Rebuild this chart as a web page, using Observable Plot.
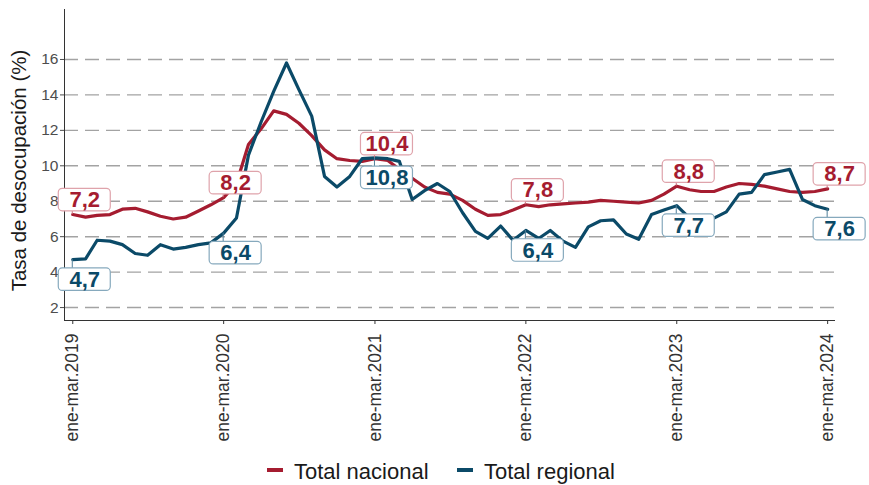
<!DOCTYPE html>
<html>
<head>
<meta charset="utf-8">
<script src="https://cdn.jsdelivr.net/npm/d3@7"></script>
<script src="https://cdn.jsdelivr.net/npm/@observablehq/plot@0.6"></script>
<style>
  html, body { margin: 0; padding: 0; background: #ffffff; }
  body { width: 869px; height: 485px; overflow: hidden; font-family: "Liberation Sans", Arial, sans-serif; }
  #legend { position: relative; height: 33px; font-size: 22px; color: #1a1a1a; }
  #legend .item { position: absolute; top: 0; height: 33px; line-height: 33px; white-space: nowrap; }
  #legend .sw { position: absolute; width: 16px; height: 4px; }
</style>
</head>
<body>
<div id="chart"></div>
<div id="legend"></div>
<script>
// ---- data ----
const startYear = 2019;
const nMonths = 61; // ene-mar 2019 ... ene-mar 2024 (rolling quarters)
const seriesNames = ["Total nacional", "Total regional"];
const nacional = [
  7.25, 7.1, 7.2, 7.25, 7.55, 7.6, 7.4, 7.15, 7.0, 7.1, 7.45, 7.8,
  8.2, 9.0, 11.2, 12.1, 13.1, 12.9, 12.4, 11.7, 10.9, 10.4, 10.3, 10.25,
  10.4, 10.3, 9.8, 9.3, 8.8, 8.5, 8.4, 8.05, 7.55, 7.2, 7.25, 7.5,
  7.8, 7.7, 7.8, 7.85, 7.9, 7.95, 8.05, 8.0, 7.95, 7.9, 8.05, 8.4,
  8.85, 8.65, 8.55, 8.55, 8.8, 9.0, 8.95, 8.85, 8.7, 8.55, 8.5, 8.55,
  8.7
];
const regional = [
  4.7, 4.75, 5.8, 5.75, 5.55, 5.05, 4.95, 5.55, 5.3, 5.4, 5.55, 5.65,
  6.2, 7.05, 10.6, 12.5, 14.2, 15.8, 14.3, 12.8, 9.4, 8.8, 9.4, 10.4,
  10.45, 10.4, 10.25, 8.1, 8.6, 9.0, 8.55, 7.35, 6.3, 5.9, 6.6, 5.8,
  6.35, 5.9, 6.35, 5.75, 5.4, 6.55, 6.9, 6.95, 6.15, 5.85, 7.25, 7.5,
  7.75, 7.05, 7.0, 7.05, 7.4, 8.4, 8.5, 9.5, 9.65, 9.8, 8.1, 7.75,
  7.55
];
const labelIndex = [0, 12, 24, 36, 48, 60];
const labelsNacional = ["7,2", "8,2", "10,4", "7,8", "8,8", "8,7"];
const labelsRegional = ["4,7", "6,4", "10,8", "6,4", "7,7", "7,6"];
const yTicks = [2, 4, 6, 8, 10, 12, 14, 16];
const xTickYears = [2019, 2020, 2021, 2022, 2023, 2024];
const xTickPrefix = "ene-mar.";
const yTitle = "Tasa de desocupación (%)";

// ---- styles ----
const RED = "#a51c30";
const BLUE = "#0b4a68";
const RED_BORDER = "#dfa3ab";
const BLUE_BORDER = "#86a9bd";
const FONT = "'Liberation Sans', Arial, sans-serif";

const months = d3.range(nMonths).map(i => new Date(Date.UTC(startYear, i, 1)));
const rows = months.map((d, i) => ({date: d, nac: nacional[i], reg: regional[i]}));
const xTicks = xTickYears.map(y => new Date(Date.UTC(y, 0, 1)));
const labNac = labelIndex.map((k, j) => ({date: months[k], v: nacional[k], t: labelsNacional[j]}));
const labReg = labelIndex.map((k, j) => ({date: months[k], v: regional[k], t: labelsRegional[j]}));

const xDomain = [new Date(Date.UTC(2018, 11, 12)), new Date(Date.UTC(2024, 0, 20))];
const yDomain = [1.27, 18.82];
const DX = 12, DY_NAC = -14.5, DY_REG = 20;

const chart = Plot.plot({
  width: 869,
  height: 452,
  marginLeft: 64,
  marginRight: 34,
  marginTop: 9,
  marginBottom: 132,
  style: {fontFamily: FONT, background: "#ffffff", overflow: "visible"},
  x: {type: "utc", domain: xDomain},
  y: {domain: yDomain},
  marks: [
    Plot.gridY(yTicks, {stroke: "#a3a3a3", strokeOpacity: 1, strokeWidth: 1.4, strokeDasharray: "14,7"}),
    Plot.axisY({ticks: yTicks, tickSize: 4, tickPadding: 2, fontSize: 15.5, color: "#4d4d4d", label: null}),
    Plot.axisX({ticks: xTicks, tickFormat: d => xTickPrefix + d.getUTCFullYear(), tickRotate: -90,
      tickSize: 4, tickPadding: 9, fontSize: 17.5, color: "#333333", label: null}),
    Plot.ruleX([xDomain[0]], {stroke: "#333333", strokeWidth: 1}),
    Plot.ruleY([yDomain[0]], {stroke: "#333333", strokeWidth: 1}),
    Plot.line(rows, {x: "date", y: "nac", stroke: RED, strokeWidth: 3.2, strokeLinejoin: "round"}),
    Plot.line(rows, {x: "date", y: "reg", stroke: BLUE, strokeWidth: 3.2, strokeLinejoin: "round"}),
    Plot.text(labNac, {x: "date", y: "v", text: "t", dx: DX, dy: DY_NAC, fill: RED, fontSize: 22,
      fontWeight: "bold"}),
    Plot.text(labReg, {x: "date", y: "v", text: "t", dx: DX, dy: DY_REG, fill: BLUE, fontSize: 22,
      fontWeight: "bold"})
  ]
});
document.getElementById("chart").appendChild(chart);

// label boxes and connectors (ggrepel-like), positioned with Plot's own scales
const xs = chart.scale("x"), ys = chart.scale("y");
const svg = d3.select(chart);
const textGroups = svg.selectAll('g[aria-label="text"]').nodes();
function addBoxes(node, labs, dy, border, conn) {
  if (!node) return;
  const g = svg.insert("g", () => node);
  labs.forEach(d => {
    const px = xs.apply(d.date), py = ys.apply(d.v);
    const cx = px + DX, cy = py + dy;
    const w = 52, h = 22.5;
    const edge = dy < 0 ? cy + h / 2 : cy - h / 2;
    if ((dy < 0 && edge < py - 1) || (dy > 0 && edge > py + 1)) {
      g.append("line").attr("x1", px).attr("x2", px).attr("y1", py).attr("y2", edge)
        .attr("stroke", conn).attr("stroke-width", 1);
    }
    g.append("rect").attr("x", cx - w / 2).attr("y", cy - h / 2).attr("width", w).attr("height", h)
      .attr("rx", 4).attr("fill", "#ffffff").attr("stroke", border).attr("stroke-width", 1.2);
  });
}
addBoxes(textGroups[0], labNac, DY_NAC, RED_BORDER, "#c9707c");
addBoxes(textGroups[1], labReg, DY_REG, BLUE_BORDER, "#4f7f99");

// y-axis title, centred on the plot frame
const [yr0, yr1] = ys.range;
svg.append("text")
  .attr("transform", `translate(19,${(yr0 + yr1) / 2 + 6}) rotate(-90)`)
  .attr("text-anchor", "middle")
  .attr("dy", "0.35em")
  .attr("font-size", 20.5)
  .attr("fill", "#1a1a1a")
  .text(yTitle);

// legend
const legend = document.getElementById("legend");
const legItems = [
  {name: seriesNames[0], color: RED, left: 267},
  {name: seriesNames[1], color: BLUE, left: 457}
];
legItems.forEach(it => {
  const sw = document.createElement("div");
  sw.className = "sw";
  sw.style.left = it.left + "px";
  sw.style.top = "16px";
  sw.style.background = it.color;
  legend.appendChild(sw);
  const tx = document.createElement("div");
  tx.className = "item";
  tx.style.left = (it.left + 27) + "px";
  tx.style.top = "3px";
  tx.textContent = it.name;
  legend.appendChild(tx);
});
</script>
</body>
</html>
